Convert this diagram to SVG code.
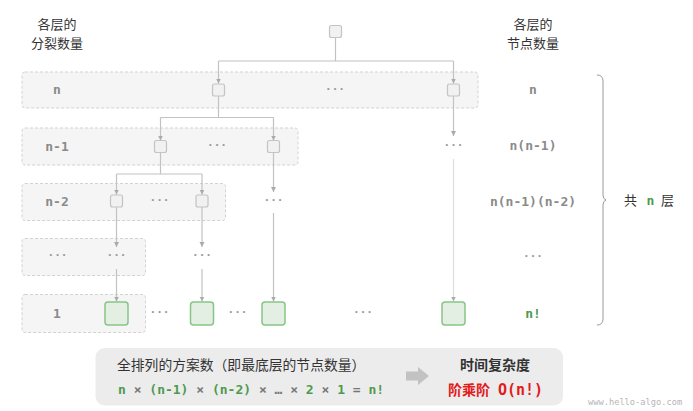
<svg xmlns="http://www.w3.org/2000/svg" width="693" height="411" viewBox="0 0 693 411">
<defs>
<marker id="ah" markerUnits="userSpaceOnUse" markerWidth="6" markerHeight="6" refX="5" refY="3" orient="auto">
<path d="M0,0.5 L5,3 L0,5.5 Z" fill="#aaa"/>
</marker>
<style>
.band{fill:#f5f5f5;stroke:#d2d2d2;stroke-width:1;stroke-dasharray:3 2}
.nd{fill:#f1f1f1;stroke:#c4c4c4;stroke-width:1.2}
.gn{fill:#e4efe3;stroke:#86c586;stroke-width:1.5}
.ln{fill:none;stroke:#c2c2c2;stroke-width:1.2}
.la{fill:none;stroke:#c2c2c2;stroke-width:1.2;marker-end:url(#ah)}
.lt{fill:none;stroke:#dedede;stroke-width:1.2;marker-end:url(#ah)}
.mono{font-family:"DejaVu Sans Mono","Liberation Mono",monospace;font-weight:bold;font-size:13px;text-anchor:middle}
.gl{fill:#8a8a8a}
.gr{fill:#4d9a4d}
.dots{font-family:"DejaVu Sans Mono","Liberation Mono",monospace;font-weight:bold;font-size:11px;fill:#9a9a9a;text-anchor:middle}
.cjk{font-family:"Noto Sans CJK SC","Noto Sans",sans-serif;font-size:13px;fill:#333;text-anchor:middle}
</style>
</defs>

<g id="bands">
<rect class="band" x="22" y="72" width="456" height="36" rx="3"/>
<rect class="band" x="22" y="128" width="276" height="37" rx="3"/>
<rect class="band" x="22" y="183.5" width="203.5" height="37" rx="3"/>
<rect class="band" x="22" y="238.5" width="123.5" height="37" rx="3"/>
<rect class="band" x="22" y="294.5" width="123.5" height="38" rx="3"/>
</g>

<g id="headers">
<text class="cjk" x="57" y="28.5">各层的</text>
<text class="cjk" x="57" y="48">分裂数量</text>
<text class="cjk" x="533" y="28.5">各层的</text>
<text class="cjk" x="533" y="48">节点数量</text>
</g>

<g id="connectors">
<path class="ln" d="M335.5,37 V61 M218.5,61 H453.5"/>
<path class="la" d="M218.5,61 V83.5"/>
<path class="la" d="M453.5,61 V83.5"/>
<path class="ln" d="M218.5,96 V117.5 M160.5,117.5 H273.5"/>
<path class="la" d="M160.5,117.5 V140.5"/>
<path class="la" d="M273.5,117.5 V140.5"/>
<path class="la" d="M453.5,96 V136"/>
<path class="ln" d="M160.5,152 V174 M116.5,174 H202 "/>
<path class="la" d="M116.5,174 V194.5"/>
<path class="la" d="M202,174 V194.5"/>
<path class="la" d="M273.5,152 V192"/>
<path class="la" d="M116.5,207 V247"/>
<path class="la" d="M202,207 V247"/>
<path class="la" d="M116.5,269 V301.5"/>
<path class="la" d="M202,269 V301.5"/>
<path class="la" d="M273.5,213 V301.5"/>
<path class="lt" d="M453.5,159 V301.5"/>
</g>

<g id="root"><rect class="nd" x="329.5" y="25.5" width="12" height="12" rx="2"/></g>
<g id="l1a"><rect class="nd" x="212.5" y="84" width="12" height="12" rx="2"/></g>
<g id="l1b"><rect class="nd" x="447.5" y="84" width="12" height="12" rx="2"/></g>
<g id="l2a"><rect class="nd" x="154.5" y="140.5" width="12" height="12" rx="2"/></g>
<g id="l2b"><rect class="nd" x="267.5" y="140.5" width="12" height="12" rx="2"/></g>
<g id="l3a"><rect class="nd" x="110.5" y="195" width="12" height="12" rx="2"/></g>
<g id="l3b"><rect class="nd" x="196" y="195" width="12" height="12" rx="2"/></g>
<g id="leaf1"><rect class="gn" x="105" y="302" width="23" height="23" rx="3"/></g>
<g id="leaf2"><rect class="gn" x="190.5" y="302" width="23" height="23" rx="3"/></g>
<g id="leaf3"><rect class="gn" x="262" y="302" width="23" height="23" rx="3"/></g>
<g id="leaf4"><rect class="gn" x="442" y="302" width="23" height="23" rx="3"/></g>

<g id="ellipses">
<text class="dots" x="335" y="93">···</text>
<text class="dots" x="217" y="149">···</text>
<text class="dots" x="453.5" y="149">···</text>
<text class="dots" x="159.5" y="204">···</text>
<text class="dots" x="273.5" y="204">···</text>
<text class="dots" x="57.5" y="259">···</text>
<text class="dots" x="116.5" y="259">···</text>
<text class="dots" x="202" y="259">···</text>
<text class="dots" x="159.5" y="316">···</text>
<text class="dots" x="237.5" y="316">···</text>
<text class="dots" x="363" y="316">···</text>
<text class="dots" x="533" y="260">···</text>
</g>

<g id="left-labels">
<text class="mono gl" x="57" y="93.5">n</text>
<text class="mono gl" x="57" y="151">n-1</text>
<text class="mono gl" x="57" y="206">n-2</text>
<text class="mono gl" x="57" y="317.5">1</text>
</g>

<g id="right-labels">
<text class="mono gl" x="533" y="93.5">n</text>
<text class="mono gl" x="533" y="150">n(n-1)</text>
<text class="mono gl" x="533" y="205.5">n(n-1)(n-2)</text>
<text class="mono gr" x="533" y="317.5">n!</text>
</g>

<g id="brace">
<path d="M597,75 Q603,75 603,81 V195 Q603,199 606,200 Q603,201 603,205 V319 Q603,325 597,325" fill="none" stroke="#9a9a9a" stroke-width="1"/>
<text x="624" y="205" style="font-family:'Noto Sans CJK SC','Noto Sans',sans-serif;font-size:13px;fill:#333">共</text>
<text class="mono gr" x="650.5" y="204.5">n</text>
<text x="661" y="205" style="font-family:'Noto Sans CJK SC','Noto Sans',sans-serif;font-size:13px;fill:#333">层</text>
</g>

<g id="summary">
<rect x="95.5" y="348" width="467.5" height="57.5" rx="9" fill="#ececec"/>
<text x="117" y="369.5" style="font-family:'Noto Sans CJK SC','Noto Sans',sans-serif;font-size:13.8px;fill:#333">全排列的方案数（即最底层的节点数量）</text>
<text x="118" y="394" style="font-family:'DejaVu Sans Mono','Liberation Mono',monospace;font-weight:bold;font-size:13px;fill:#4d9a4d">n <tspan fill="#777">×</tspan> (n-1) <tspan fill="#777">×</tspan> (n-2) <tspan fill="#777">×</tspan> <tspan fill="#777">…</tspan> <tspan fill="#777">×</tspan> 2 <tspan fill="#777">×</tspan> 1 <tspan fill="#777">=</tspan> n!</text>
<path d="M406,371.5 H418 V367 L429,376 L418,385 V380.5 H406 Z" fill="#c2c2c2"/>
<text x="495" y="370" style="font-family:'Noto Sans CJK SC','Noto Sans',sans-serif;font-size:14px;font-weight:bold;fill:#333;text-anchor:middle">时间复杂度</text>
<text x="448" y="394.5" style="font-family:'Noto Sans CJK SC','Noto Sans',sans-serif;font-size:14px;font-weight:bold;fill:#e31b1b">阶乘阶</text>
<text x="498" y="394.5" style="font-family:'DejaVu Sans Mono','Liberation Mono',monospace;font-size:15px;font-weight:bold;fill:#e31b1b">O(n!)</text>
</g>

<text x="588" y="405" style="font-family:'DejaVu Sans Mono','Liberation Mono',monospace;font-size:8.7px;fill:#b5b5b5">www.hello-algo.com</text>
</svg>
